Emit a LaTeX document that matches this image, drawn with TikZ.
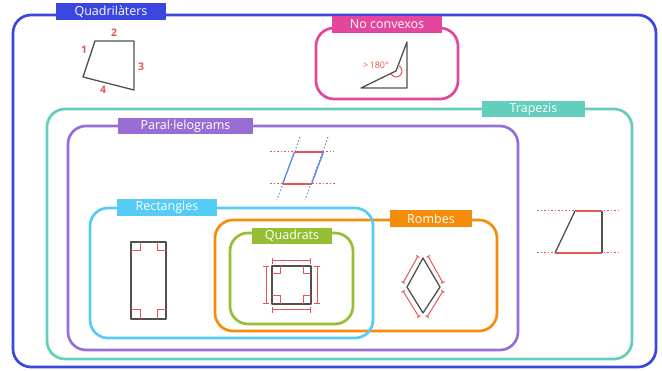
\documentclass[tikz,border=0pt]{standalone}
\usepackage{fontspec}
\setmainfont{Open Sans}
\usetikzlibrary{positioning,arrows.meta}
\definecolor{quadColor}{RGB}{58,70,222}
\definecolor{convexColor}{RGB}{228,70,158}
\definecolor{trapColor}{RGB}{100,206,188}
\definecolor{paraColor}{RGB}{152,110,214}
\definecolor{rectColor}{RGB}{84,204,246}
\definecolor{rombColor}{RGB}{245,140,12}
\definecolor{squareColor}{RGB}{150,190,50}
\definecolor{markColor}{RGB}{228,86,86}
\definecolor{edgeColor}{RGB}{80,80,80}
\definecolor{sideColor}{RGB}{100,140,220}
\tikzstyle{pixels} = [x = 1pt, y = -1pt]
\tikzstyle{setFrame} = [line width = 2.7pt, rounded corners = 18pt]
\tikzstyle{setLabel} = [fill, text = white, font = \fontsize{12.5}{14}\selectfont, inner sep = 0pt, minimum height = 16.5pt]
\tikzstyle{edgeLine} = [color = edgeColor, line width = 1.3pt, line join = round]
\tikzstyle{markLine} = [color = markColor, line width = 1pt]
\tikzstyle{guideLine} = [markLine, dash pattern = on 1.5pt off 2pt]
\tikzstyle{sideGuide} = [color = sideColor, line width = 1pt, dash pattern = on 1.5pt off 2pt]
\tikzstyle{markText} = [text = markColor, font = \fontsize{10.5}{11}\selectfont\bfseries, inner sep = 1pt]
\tikzstyle{barEnds} = [{Bar[width = 6pt]}-{Bar[width = 6pt]}]
\tikzstyle{tickEnds} = [{Bar[width = 4pt]}-{Bar[width = 4pt]}]
\newcommand{\setBox}[5]{\draw [setFrame, #1] (#2, #3) rectangle (#4, #5);}
\newcommand{\rightMark}[4]{\draw [markLine] (#1, #2 + #4) -| (#1 + #3, #2);}

\begin{document}
\begin{tikzpicture}[pixels]
  \useasboundingbox (0, 0) rectangle (662, 371);
  % sets
  \setBox{quadColor}{13}{15}{656}{367}
  \setBox{convexColor}{316}{28}{458}{99}
  \setBox{trapColor}{47}{109}{632}{359}
  \setBox{paraColor}{68}{126}{518}{350}
  \setBox{rombColor}{215}{220}{497}{331}
  \setBox{rectColor}{90}{208}{373}{338}
  \setBox{squareColor}{230}{233}{353}{324}
  \node [setLabel, fill = quadColor, minimum width = 110pt] (quadLabel) at (111, 11.5) {Quadrilàters};
  \node [setLabel, fill = convexColor, minimum width = 110pt] (convexLabel) at (387, 24.5) {No convexos};
  \node [setLabel, fill = trapColor, minimum width = 103pt] (trapLabel) at (533.5, 109) {Trapezis};
  \node [setLabel, fill = paraColor, minimum width = 135pt] (paraLabel) at (185.5, 126) {Paral·lelograms};
  \node [setLabel, fill = rectColor, minimum width = 100pt] (rectLabel) at (167, 207.5) {Rectangles};
  \node [setLabel, fill = rombColor, minimum width = 82pt] (rombLabel) at (431, 218.5) {Rombes};
  \node [setLabel, fill = squareColor, minimum width = 80pt] (squareLabel) at (292, 236) {Quadrats};

  % quadrilateral
  \draw [edgeLine] (95, 41) -- (134, 41) -- (134, 90) -- (83, 77) -- cycle;
  \node [markText] (sideOne) at (84, 50) {1};
  \node [markText] (sideTwo) at (114, 33) {2};
  \node [markText] (sideThree) at (141, 67) {3};
  \node [markText] (sideFour) at (103, 90) {4};

  % non convex
  \draw [edgeLine] (407, 42) -- (407, 88) -- (361, 88) -- (396, 71) -- cycle;
  \draw [markLine] (396, 71) ++(-69:6) arc [start angle = -69, end angle = 154, radius = 6];
  \node [markText, font = \fontsize{9}{10}\selectfont] (reflexText) at (376, 65) {>\,180°};

  % parallelogram
  \draw [guideLine] (270, 152) -- (334, 152);
  \draw [guideLine] (270, 184) -- (336, 184);
  \draw [sideGuide] (300, 137) -- (277, 200);
  \draw [sideGuide] (328, 137) -- (305, 200);
  \draw [markLine, line width = 1.3pt] (294.5, 152) -- (323.5, 152);
  \draw [markLine, line width = 1.3pt] (282.5, 184) -- (311.5, 184);
  \draw [color = sideColor, line width = 1.3pt] (294.5, 152) -- (282.5, 184);
  \draw [color = sideColor, line width = 1.3pt] (323.5, 152) -- (311.5, 184);

  % rectangle
  \draw [edgeLine] (131, 242) rectangle (166, 319);
  \rightMark{131}{242}{9}{9}
  \rightMark{166}{242}{-9}{9}
  \rightMark{131}{319}{9}{-9}
  \rightMark{166}{319}{-9}{-9}

  % square
  \draw [edgeLine] (272, 266) rectangle (311, 304);
  \rightMark{272}{266}{8}{8}
  \rightMark{311}{266}{-8}{8}
  \rightMark{272}{304}{8}{-8}
  \rightMark{311}{304}{-8}{-8}
  \draw [markLine, barEnds] (272, 261) -- (311, 261);
  \draw [markLine, barEnds] (272, 310) -- (311, 310);
  \draw [markLine, barEnds] (266, 266) -- (266, 304);
  \draw [markLine, barEnds] (317, 266) -- (317, 304);

  % rhombus
  \draw [edgeLine] (423, 258) -- (440, 287) -- (423, 313) -- (407, 287) -- cycle;
  \draw [markLine, tickEnds] (418, 256) -- (403, 283);
  \draw [markLine, tickEnds] (428, 256) -- (443, 283);
  \draw [markLine, tickEnds] (403, 291) -- (419, 317);
  \draw [markLine, tickEnds] (443, 291) -- (427, 317);

  % trapezoid
  \draw [guideLine] (537, 211) -- (619, 211);
  \draw [guideLine] (537, 253) -- (619, 253);
  \draw [edgeLine] (575, 211) -- (555, 253);
  \draw [edgeLine] (602, 211) -- (602, 253);
  \draw [markLine, line width = 1.3pt] (575, 211) -- (602, 211);
  \draw [markLine, line width = 1.3pt] (555, 253) -- (602, 253);
\end{tikzpicture}
\end{document}
